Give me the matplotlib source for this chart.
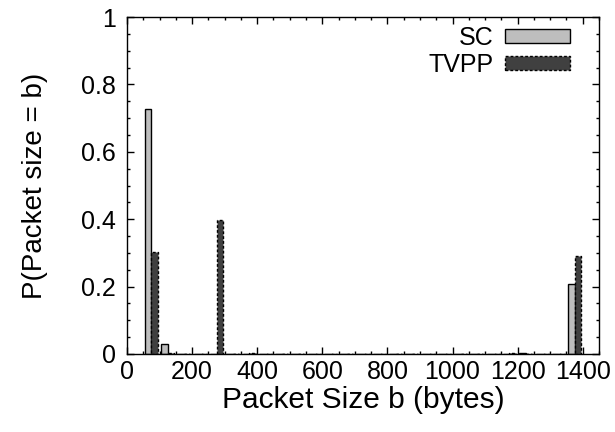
import matplotlib.pyplot as plt
from matplotlib.ticker import MultipleLocator
import numpy as np

plt.rcParams['font.family'] = ['Liberation Sans', 'DejaVu Sans']

# packet size bins, 50 bytes wide, centred at 75, 125, ..., 1375
bin_centers = np.arange(75, 1400, 50)

sc = np.zeros(len(bin_centers))
tvpp = np.zeros(len(bin_centers))

# SC distribution
sc[0] = 0.726
sc[1] = 0.030
sc[2] = 0.001
sc[9] = 0.001
sc[15] = 0.001
sc[16] = 0.001
sc[23] = 0.002
sc[26] = 0.208

# TVPP distribution
tvpp[0] = 0.303
tvpp[1] = 0.004
tvpp[4] = 0.397
tvpp[6] = 0.003
tvpp[9] = 0.001
tvpp[22] = 0.003
tvpp[26] = 0.292

fig = plt.figure(figsize=(6.15, 4.32), dpi=100)
ax = fig.add_axes([0.2065, 0.1806, 0.7675, 0.78])

bw = 20
ax.bar(bin_centers - bw / 2, sc, width=bw, color='#bebebe', edgecolor='black',
       linewidth=1.0, label='SC')
ax.bar(bin_centers + bw / 2, tvpp, width=bw, color='#404040', edgecolor='black',
       linewidth=1.0, linestyle=(0, (2, 1.5)), label='TVPP')

ax.set_xlim(0, 1450)
ax.set_ylim(0, 1)
ax.xaxis.set_major_locator(MultipleLocator(200))
ax.xaxis.set_minor_locator(MultipleLocator(50))
ax.yaxis.set_major_locator(MultipleLocator(0.2))
ax.yaxis.set_minor_locator(MultipleLocator(0.05))
ax.yaxis.set_major_formatter(plt.FuncFormatter(lambda v, p: '%g' % round(v, 1)))

ax.tick_params(which='both', direction='in', top=True, right=True, labelsize=18, width=1)
ax.tick_params(which='major', length=5)
ax.tick_params(which='minor', length=2.5)
ax.tick_params(axis='x', which='major', pad=4)
ax.tick_params(axis='y', which='major', pad=8)
for s in ax.spines.values():
    s.set_linewidth(1.0)

ax.set_xlabel('Packet Size b (bytes)', fontsize=21.5, labelpad=2)
ax.set_ylabel('P(Packet size = b)', fontsize=20, labelpad=24)

ax.legend(loc='upper right', bbox_to_anchor=(0.9385, 0.973), frameon=False,
          markerfirst=False, fontsize=18, handlelength=2.6, handleheight=0.5,
          labelspacing=0.1, borderaxespad=0, borderpad=0, handletextpad=0.45)

plt.savefig('out.png', dpi=100)
